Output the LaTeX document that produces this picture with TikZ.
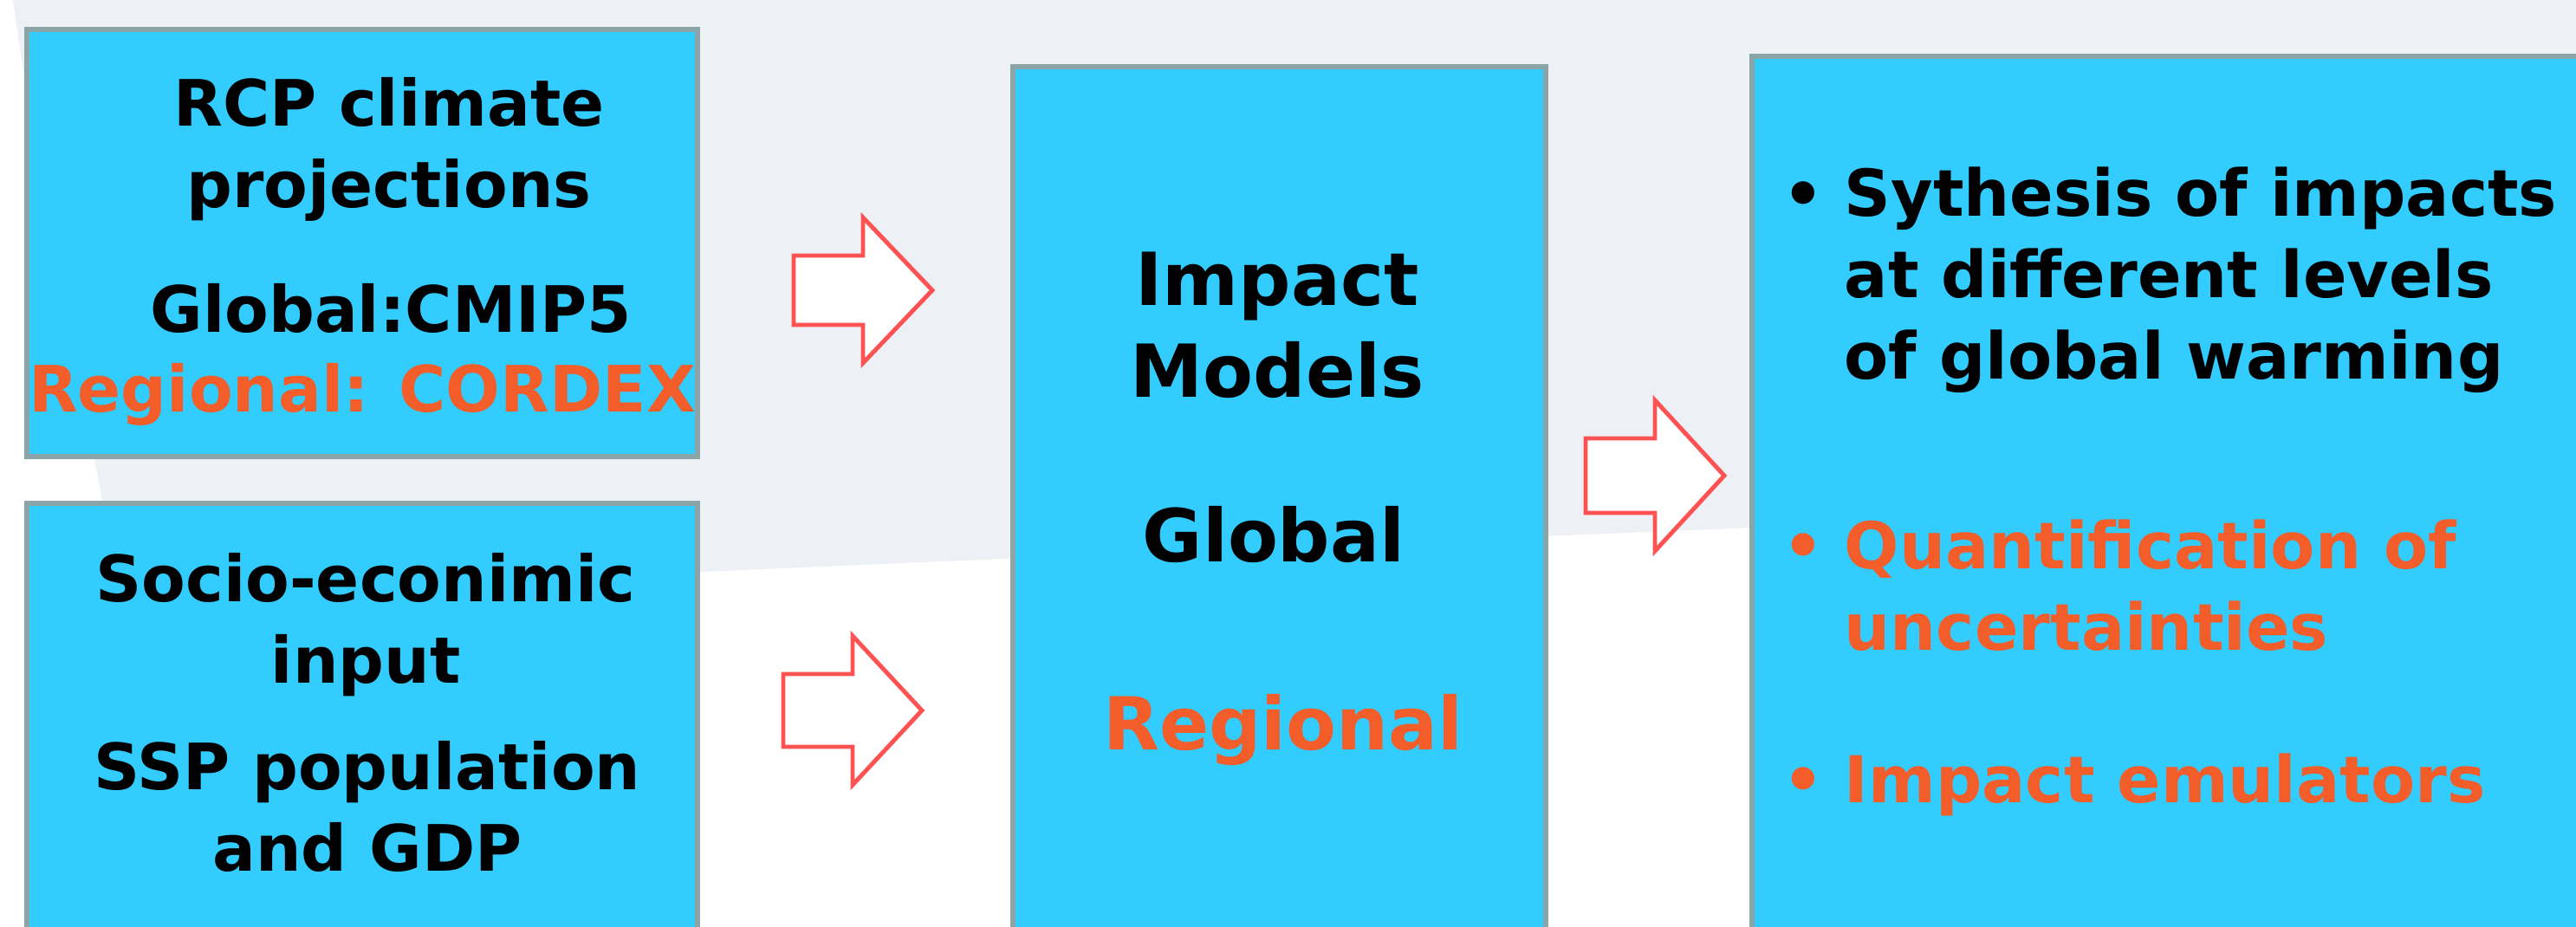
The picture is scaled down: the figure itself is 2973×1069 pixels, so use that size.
\documentclass[tikz,border=0pt]{standalone}
\usepackage{fontspec}
\setmainfont{DejaVu Sans}
\usepackage{tikz}
\definecolor{boxcyan}{RGB}{51,204,255}
\definecolor{boxline}{RGB}{138,164,168}
\definecolor{bggrey}{RGB}{237,240,245}
\definecolor{hiorange}{RGB}{242,93,42}
\definecolor{arrowred}{RGB}{255,82,82}

\begin{document}
\begin{tikzpicture}[x=0.01cm,y=-0.01cm,
  box/.style={draw=boxline,line width=1.7pt,fill=boxcyan,inner sep=0pt},
  blockarrow/.style={draw=arrowred,line width=1.4pt,fill=white,line join=miter},
  ctxt/.style={anchor=base,inner sep=0pt,align=center,font=\bfseries\fontsize{21pt}{26.5pt}\selectfont},
  mtxt/.style={anchor=base,inner sep=0pt,align=center,font=\bfseries\fontsize{24pt}{29.9pt}\selectfont},
  rtxt/.style={anchor=base west,inner sep=0pt,align=left,font=\bfseries\fontsize{21.2pt}{26.7pt}\selectfont}]

\useasboundingbox (0,0) rectangle (2973,1069);
\fill[white] (0,0) rectangle (2973,1069);
\clip (0,0) rectangle (2973,1069);

% background
\fill[bggrey] (15,0) .. controls (50,250) and (100,480) .. (140,690) .. controls (1000,650) and (2000,610) .. (2973,570) -- (2973,0) -- cycle;

% boxes
\node (clim) at (418,280.5)[box,minimum width=7.74cm,minimum height=4.93cm] {};
\node (socio) at (418,890)[box,minimum width=7.74cm,minimum height=6.18cm] {};
\node (impm) at (1476.5,638)[box,minimum width=6.15cm,minimum height=11.22cm] {};
\node (synth) at (2561,632)[box,minimum width=10.78cm,minimum height=11.34cm] {};

% left column (base = last line)
\node (rcpT) at (449,239)[ctxt] {RCP climate\\projections};
\node (cmipT) at (451,383)[ctxt] {Global:CMIP5};
\node (cordexT) at (418,475)[ctxt,text=hiorange] {Regional: CORDEX};
\node (socioT) at (422,788)[ctxt] {Socio-econimic\\input};
\node (sspT) at (424,1005)[ctxt] {SSP population\\and GDP};

% middle column
\node (impactT) at (1474,458)[mtxt] {Impact\\Models};
\node (globalT) at (1470,648)[mtxt] {Global};
\node (regionalT) at (1481,865)[mtxt,text=hiorange] {Regional};

% right column
\node (bulA) at (2057,250)[rtxt] {•};
\node (bulB) at (2057,656)[rtxt,text=hiorange] {•};
\node (bulC) at (2057,926)[rtxt,text=hiorange] {•};
\node (synthT) at (2128,437)[rtxt] {Sythesis of impacts\\at different levels\\of global warming};
\node (quantT) at (2128,750)[rtxt,text=hiorange] {Quantification of\\uncertainties};
\node (emulT) at (2128,926)[rtxt,text=hiorange] {Impact emulators};

% block arrows
\coordinate (tipA) at (1076,335);
\coordinate (tipB) at (1064,820);
\coordinate (tipC) at (1990,549);
\draw[blockarrow] (tipA) -- ++(-80,-84) -- ++(0,44) -- ++(-80,0) -- ++(0,80) -- ++(80,0) -- ++(0,44) -- cycle;
\draw[blockarrow] (tipB) -- ++(-80,-86) -- ++(0,44) -- ++(-80,0) -- ++(0,84) -- ++(80,0) -- ++(0,44) -- cycle;
\draw[blockarrow] (tipC) -- ++(-80,-87) -- ++(0,44) -- ++(-80,0) -- ++(0,86) -- ++(80,0) -- ++(0,44) -- cycle;
\end{tikzpicture}
\end{document}
